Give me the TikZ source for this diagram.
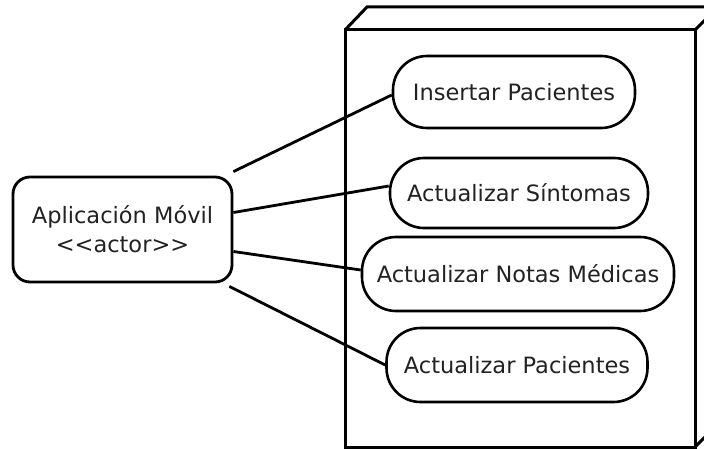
\documentclass[tikz,border=0pt]{standalone}
\usepackage{fontspec}
\newfontfamily\uifont{DejaVu Sans}
\definecolor{ink}{HTML}{222222}
\tikzset{
  usecase/.style={draw=black, line width=2.6pt, rounded corners=34pt, fill=white,
    font=\uifont\fontsize{22.5}{27}\selectfont, text=ink, inner sep=0pt, align=center},
  actorbox/.style={draw=black, line width=2.8pt, rounded corners=17pt, fill=white,
    font=\uifont\fontsize{22.5}{29}\selectfont, text=ink, inner sep=0pt, align=center,
    minimum width=219pt, minimum height=105pt},
  link/.style={draw=black, line width=2.8pt},
  boxline/.style={draw=black, line width=3pt, line join=miter}
}
\begin{document}
\begin{tikzpicture}[x=1pt,y=-1pt]
\useasboundingbox (0,0) rectangle (704,449);
\clip (0,0) rectangle (704,449);
% system box (3D)
\draw[boxline] (345,30) rectangle (695,447);
\draw[boxline] (345,30) -- (367,7) -- (720,7);
\draw[boxline] (695,30) -- (718,7);
\draw[boxline] (695,447) -- (718,424) -- (718,7);
% use cases
\node[usecase, minimum width=242pt, minimum height=72pt] (i1) at (514,92) {Insertar Pacientes};
\node[usecase, minimum width=258pt, minimum height=70pt] (i2) at (519,193) {Actualizar Síntomas};
\node[usecase, minimum width=312pt, minimum height=74pt] (i3) at (518,274) {Actualizar Notas Médicas};
\node[usecase, minimum width=261pt, minimum height=74pt] (i4) at (517,365) {Actualizar Pacientes};
% actor
\node[actorbox] (actor) at (122.5,229.5) {Aplicación Móvil\\<{}<actor>{}>};
% links
\draw[link] ([yshift=4pt]actor.north east) -- ([yshift=-3pt]i1.west);
\draw[link] ([yshift=17pt]actor.east) -- ([yshift=7pt]i2.west);
\draw[link] ([yshift=-22pt]actor.east) -- ([yshift=4pt]i3.west);
\draw[link] ([xshift=-4pt,yshift=-3pt]actor.south east) -- (i4.west);
\end{tikzpicture}
\end{document}
